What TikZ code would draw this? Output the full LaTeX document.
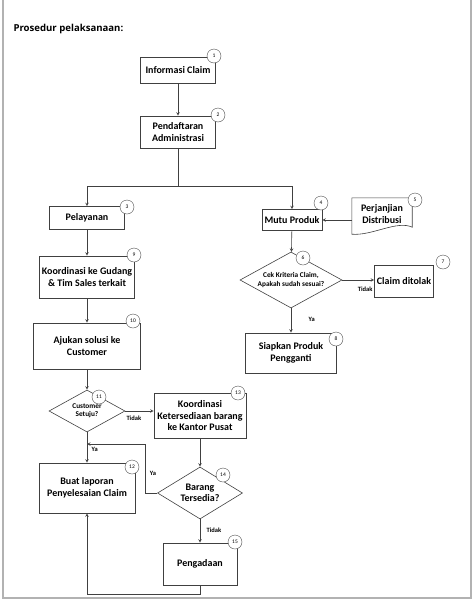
\documentclass[tikz,border=0pt]{standalone}
\usepackage{fontspec}
\setmainfont{Carlito}
\newfontfamily\judulfont{Open Sans}
\usetikzlibrary{shapes.geometric,positioning}

\begin{document}
\begin{tikzpicture}[x=1pt,y=-1pt,
        garis/.style={draw=black!75,line width=0.6pt},
        kotak/.style={garis,rectangle,align=center,inner sep=1pt,text=black,
            font=\bfseries\fontsize{10}{11.5}\selectfont},
        belah/.style={garis,diamond,inner sep=0pt},
        tulis/.style={align=center,inner sep=0pt,text=black,
            font=\bfseries\fontsize{7.3}{8.3}\selectfont},
        nomor/.style={draw=black!70,fill=white,circle,minimum size=14pt,inner sep=0pt,
            font=\fontsize{5.5}{5.5}\selectfont},
        ket/.style={text=black,font=\bfseries\fontsize{6.5}{7.5}\selectfont},
        panah/.style={garis,-stealth}]

                \useasboundingbox (0,0) rectangle (474,603);
                \draw [gray!60,line width=2pt] (3,0)--(3,598)--(471,598)--(471,0);
                \node (judul) at (10,29) [anchor=west,font=\judulfont\bfseries\fontsize{9.6}{11}\selectfont] {Prosedur pelaksanaan:};

                % kolom tengah dan kanan
                \node [kotak,minimum width=75pt,minimum height=26pt] (info) at (178,70) {Informasi Claim};
                \node [kotak,minimum width=75pt,minimum height=32pt] (daftar) at (178,132) {Pendaftaran\\Administrasi};
                \node [kotak,minimum width=60pt,minimum height=21pt] (mutu) at (292,220) {Mutu Produk};
                \node [tulis,font=\bfseries\fontsize{10}{11.5}\selectfont,minimum width=60pt,minimum height=32pt] (janji) at (382,214) {Perjanjian\\Distribusi};
                \draw [garis] (janji.north west)--(janji.north east)--([yshift=3pt]janji.south east)
                    .. controls (397,220) and (372,236) .. ([yshift=-4pt]janji.south west)--cycle;
                \node [belah,minimum width=102pt,minimum height=56pt] (cek) at (291,280) {};
                \node [tulis] (cek-teks) at (cek) {Cek Kriteria Claim,\\Apakah sudah sesuai?};
                \node [kotak,minimum width=59pt,minimum height=32pt] (tolak) at (404,281) {Claim ditolak};
                \node [kotak,minimum width=91pt,minimum height=40pt] (siap) at (291,353) {Siapkan Produk\\Pengganti};

                % kolom kiri
                \node [kotak,minimum width=75pt,minimum height=23pt] (layan) at (87,218) {Pelayanan};
                \node [kotak,minimum width=95pt,minimum height=42pt] (gudang) at (87,277) {Koordinasi ke Gudang\\\& Tim Sales terkait};
                \node [kotak,minimum width=107pt,minimum height=46pt] (ajukan) at (87,346) {Ajukan solusi ke\\Customer};
                \node [belah,minimum width=76pt,minimum height=42pt] (setuju) at (87,411) {};
                \node [tulis] (setuju-teks) at (setuju) {Customer\\Setuju?};
                \node [kotak,minimum width=96pt,minimum height=50pt] (buat) at (87,488) {Buat laporan\\Penyelesaian Claim};
                \node [kotak,minimum width=92pt,minimum height=45pt] (kantor) at (200,416) {Koordinasi\\Ketersediaan barang\\ke Kantor Pusat};
                \node [belah,minimum width=85pt,minimum height=52pt] (sedia) at (200,493) {};
                \node [tulis,font=\bfseries\fontsize{10}{11.5}\selectfont] (sedia-teks) at (sedia) {Barang\\Tersedia?};
                \node [kotak,minimum width=74pt,minimum height=42pt] (adaan) at (200,564) {Pengadaan};

                \coordinate (cabang) at (178,186);
                \coordinate (gabung) at (87,444);

                \draw [panah] (info)--(daftar);
                \draw [panah] (daftar.south)--(cabang)-|(layan.north);
                \draw [panah] (cabang)-|(mutu.north);
                \draw [panah] (janji.west |- mutu.east)--(mutu.east);
                \draw [panah] (mutu)--(cek);
                \draw [panah] (cek.east)--(tolak.west |- cek.east) node [ket,pos=0.5,below right=3pt and -4pt] {Tidak};
                \draw [panah] (cek)--(siap) node [ket,pos=0.45,right=14pt] {Ya};
                \draw [panah] (layan)--(gudang);
                \draw [panah] (gudang)--(ajukan);
                \draw [panah] (ajukan)--(setuju);
                \draw [panah] (setuju.east)--(kantor.west |- setuju.east) node [ket,pos=0.3,below=1pt] {Tidak};
                \draw [panah] (setuju)--(buat) node [ket,pos=0.55,right=1pt] {Ya};
                \draw [panah] (sedia.west)--++(-12,0)|-(gabung) node [ket,pos=0.2,right=1pt] {Ya};
                \draw [panah] (kantor)--(sedia);
                \draw [panah] (sedia)--(adaan) node [ket,pos=0.45,right=3pt] {Tidak};
                \draw [panah] (adaan.south)--++(0,9)-|(buat.south);

                % nomor langkah
                \node [nomor] (n1) at (214,56) {1};
                \node [nomor] (n2) at (218,115) {2};
                \node [nomor] (n3) at (127,207) {3};
                \node [nomor] (n4) at (321,203) {4};
                \node [nomor] (n5) at (415,200) {5};
                \node [nomor] (n6) at (303,258) {6};
                \node [nomor] (n7) at (443,262) {7};
                \node [nomor] (n8) at (336,339) {8};
                \node [nomor] (n9) at (134,255) {9};
                \node [nomor] (n10) at (133,321) {10};
                \node [nomor] (n11) at (99,397) {11};
                \node [nomor] (n12) at (132,467) {12};
                \node [nomor] (n13) at (238,393) {13};
                \node [nomor] (n14) at (223,475) {14};
                \node [nomor] (n15) at (235,542) {15};
\end{tikzpicture}
\end{document}
